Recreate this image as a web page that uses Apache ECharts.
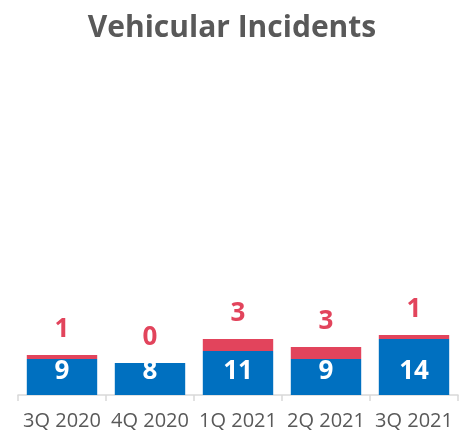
<!DOCTYPE html>
<html>
<head>
<meta charset="utf-8">
<script src="https://cdn.jsdelivr.net/npm/echarts@6/dist/echarts.min.js"></script>
<style>
  html, body { margin: 0; padding: 0; background: #fff; }
  #chart { width: 464px; height: 435px; }
</style>
</head>
<body>
<div id="chart"></div>
<script>
var quarters = ['3Q 2020', '4Q 2020', '1Q 2021', '2Q 2021', '3Q 2021'];
var baseIncidents = [9, 8, 11, 9, 14];
var extraIncidents = [1, 0, 3, 3, 1];

var chart = echarts.init(document.getElementById('chart'));
chart.setOption({
    animation: false,
    title: {
        text: 'Vehicular Incidents',
        left: 'center',
        top: 8,
        textStyle: {
            fontFamily: 'Open Sans',
            fontWeight: 'bold',
            fontSize: 30,
            color: '#595959'
        }
    },
    grid: {left: 18, right: 6, top: 155, bottom: 40},
    xAxis: {
        type: 'category',
        data: quarters,
        axisLine: {lineStyle: {color: '#d9d9d9', width: 1.5}},
        axisTick: {show: true, length: 6, lineStyle: {color: '#d9d9d9', width: 1.5}},
        axisLabel: {
            interval: 0,
            hideOverlap: false,
            margin: 16,
            fontFamily: 'Open Sans',
            fontSize: 20,
            color: '#595959'
        }
    },
    yAxis: {
        type: 'value',
        min: 0,
        max: 60,
        show: false
    },
    series: [
        {
            name: 'base',
            type: 'bar',
            stack: 'total',
            data: baseIncidents,
            barCategoryGap: '20%',
            itemStyle: {color: '#0070c0'},
            label: {
                show: true,
                position: 'insideBottom',
                distance: 10,
                fontFamily: 'Open Sans',
                fontWeight: 'bold',
                fontSize: 26,
                color: '#ffffff'
            }
        },
        {
            name: 'extra',
            type: 'bar',
            stack: 'total',
            data: extraIncidents,
            itemStyle: {color: '#e2445c'},
            label: {
                show: true,
                position: 'top',
                distance: 12,
                fontFamily: 'Open Sans',
                fontWeight: 'bold',
                fontSize: 26,
                color: '#e2445c'
            }
        }
    ]
});
</script>
</body>
</html>
